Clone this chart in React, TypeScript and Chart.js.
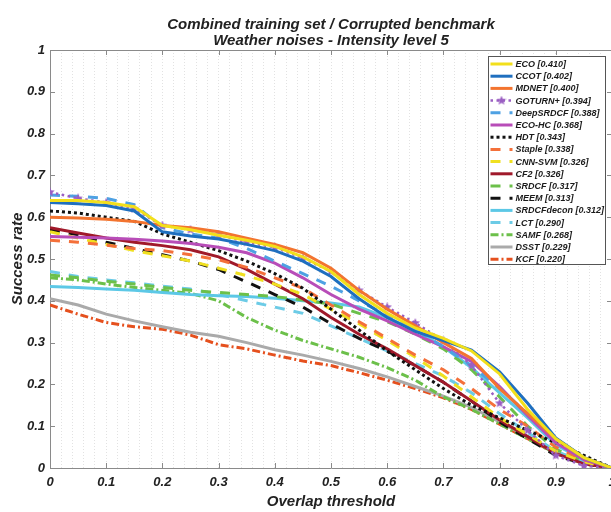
import React, { useEffect, useRef } from 'react';
import { Chart, registerables } from 'chart.js';

Chart.register(...registerables);

const thresholds = [0, 0.05, 0.1, 0.15, 0.2, 0.25, 0.3, 0.35, 0.4, 0.45, 0.5, 0.55, 0.6, 0.65, 0.7, 0.75, 0.8, 0.85, 0.9, 0.95, 1];

const eco = [0.640, 0.640, 0.635, 0.625, 0.580, 0.570, 0.557, 0.545, 0.530, 0.505, 0.470, 0.415, 0.370, 0.335, 0.310, 0.280, 0.225, 0.140, 0.070, 0.025, 0.000];
const ccot = [0.635, 0.632, 0.628, 0.615, 0.565, 0.555, 0.548, 0.535, 0.520, 0.495, 0.458, 0.405, 0.360, 0.327, 0.305, 0.282, 0.230, 0.155, 0.072, 0.025, 0.000];
const mdnet = [0.600, 0.598, 0.595, 0.590, 0.580, 0.575, 0.565, 0.550, 0.535, 0.515, 0.478, 0.425, 0.380, 0.340, 0.300, 0.262, 0.190, 0.130, 0.070, 0.025, 0.000];
const goturn = [0.660, 0.645, 0.635, 0.620, 0.580, 0.570, 0.558, 0.540, 0.528, 0.502, 0.470, 0.425, 0.385, 0.347, 0.305, 0.245, 0.155, 0.090, 0.030, 0.005, 0.000];
const deepSrdcf = [0.653, 0.650, 0.645, 0.630, 0.575, 0.560, 0.550, 0.525, 0.495, 0.465, 0.435, 0.400, 0.365, 0.330, 0.290, 0.245, 0.190, 0.130, 0.070, 0.025, 0.000];
const ecoHc = [0.554, 0.552, 0.550, 0.547, 0.543, 0.537, 0.528, 0.515, 0.490, 0.455, 0.415, 0.380, 0.352, 0.320, 0.290, 0.255, 0.195, 0.125, 0.060, 0.020, 0.000];
const hdt = [0.615, 0.610, 0.600, 0.590, 0.560, 0.540, 0.520, 0.495, 0.465, 0.430, 0.380, 0.330, 0.280, 0.235, 0.190, 0.150, 0.120, 0.090, 0.060, 0.030, 0.000];
const staple = [0.545, 0.540, 0.533, 0.525, 0.520, 0.510, 0.498, 0.480, 0.455, 0.430, 0.390, 0.350, 0.310, 0.270, 0.235, 0.190, 0.140, 0.100, 0.050, 0.020, 0.000];
const cnnSvm = [0.565, 0.550, 0.535, 0.520, 0.508, 0.495, 0.478, 0.460, 0.440, 0.415, 0.380, 0.345, 0.305, 0.265, 0.220, 0.170, 0.120, 0.080, 0.040, 0.015, 0.000];
const cf2 = [0.575, 0.562, 0.550, 0.540, 0.532, 0.522, 0.505, 0.475, 0.440, 0.405, 0.360, 0.320, 0.285, 0.245, 0.205, 0.160, 0.115, 0.075, 0.035, 0.010, 0.000];
const srdcf = [0.462, 0.455, 0.447, 0.440, 0.432, 0.425, 0.420, 0.415, 0.410, 0.402, 0.392, 0.370, 0.350, 0.320, 0.285, 0.235, 0.170, 0.100, 0.045, 0.015, 0.000];
const meem = [0.570, 0.558, 0.540, 0.525, 0.510, 0.495, 0.475, 0.445, 0.415, 0.385, 0.345, 0.310, 0.280, 0.245, 0.205, 0.160, 0.110, 0.070, 0.030, 0.010, 0.000];
const srdcfDecon = [0.434, 0.432, 0.428, 0.425, 0.420, 0.415, 0.412, 0.410, 0.406, 0.400, 0.395, 0.385, 0.360, 0.330, 0.290, 0.240, 0.180, 0.120, 0.055, 0.020, 0.000];
const lct = [0.470, 0.458, 0.450, 0.443, 0.435, 0.428, 0.415, 0.400, 0.385, 0.370, 0.340, 0.310, 0.280, 0.250, 0.220, 0.180, 0.130, 0.085, 0.040, 0.015, 0.000];
const samf = [0.455, 0.450, 0.440, 0.432, 0.425, 0.418, 0.400, 0.360, 0.330, 0.305, 0.285, 0.265, 0.240, 0.210, 0.170, 0.140, 0.105, 0.070, 0.035, 0.010, 0.000];
const dsst = [0.405, 0.390, 0.368, 0.352, 0.338, 0.325, 0.315, 0.300, 0.283, 0.270, 0.255, 0.238, 0.218, 0.195, 0.172, 0.145, 0.110, 0.075, 0.040, 0.012, 0.000];
const kcf = [0.390, 0.368, 0.348, 0.338, 0.332, 0.318, 0.295, 0.285, 0.270, 0.256, 0.245, 0.228, 0.210, 0.190, 0.168, 0.140, 0.105, 0.070, 0.035, 0.010, 0.000];

const trackerNames = ['ECO', 'CCOT', 'MDNET', 'GOTURN+', 'DeepSRDCF', 'ECO-HC', 'HDT', 'Staple', 'CNN-SVM', 'CF2', 'SRDCF', 'MEEM', 'SRDCFdecon', 'LCT', 'SAMF', 'DSST', 'KCF'];
const aucScores = ['0.410', '0.402', '0.400', '0.394', '0.388', '0.368', '0.343', '0.338', '0.326', '0.326', '0.317', '0.313', '0.312', '0.290', '0.268', '0.229', '0.220'];
const seriesValues = [eco, ccot, mdnet, goturn, deepSrdcf, ecoHc, hdt, staple, cnnSvm, cf2, srdcf, meem, srdcfDecon, lct, samf, dsst, kcf];

const xTickLabels = ['0', '0.1', '0.2', '0.3', '0.4', '0.5', '0.6', '0.7', '0.8', '0.9', '1'];
const yTickLabels = ['0', '0.1', '0.2', '0.3', '0.4', '0.5', '0.6', '0.7', '0.8', '0.9', '1'];
const majorTickValues = [0, 0.1, 0.2, 0.3, 0.4, 0.5, 0.6, 0.7, 0.8, 0.9, 1];
const titleLines = ['Combined training set / Corrupted benchmark', 'Weather noises - Intensity level 5'];
const xTitle = 'Overlap threshold';
const yTitle = 'Success rate';

const FONT = "'Liberation Sans', Arial, Helvetica, sans-serif";
const DASHED = [10, 9];
const DASHDOT = [8, 3, 2, 3];
const DOTTED = [3, 3];

const styles = [
  { color: '#f2df1b', dash: [], width: 3 },
  { color: '#1f6fbf', dash: [], width: 3 },
  { color: '#f3742f', dash: [], width: 3 },
  { color: '#9a5fc2', dash: [2.5, 3.5], width: 2.5, star: true },
  { color: '#4ea1e3', dash: DASHED, width: 3 },
  { color: '#b84db8', dash: [], width: 3 },
  { color: '#111111', dash: DOTTED, width: 3 },
  { color: '#f4703a', dash: DASHED, width: 3 },
  { color: '#f0e020', dash: DASHED, width: 3 },
  { color: '#a0192a', dash: [], width: 3 },
  { color: '#6cc04a', dash: DASHED, width: 3 },
  { color: '#111111', dash: DASHED, width: 3 },
  { color: '#5cc8e6', dash: [], width: 3 },
  { color: '#6ccbe6', dash: DASHED, width: 3 },
  { color: '#6cc04a', dash: DASHDOT, width: 3 },
  { color: '#aaaaaa', dash: [], width: 3 },
  { color: '#e5501e', dash: DASHDOT, width: 3 },
];

function makeStar(color: string, size: number) {
  const c = document.createElement('canvas');
  c.width = size;
  c.height = size;
  const g = c.getContext('2d')!;
  g.fillStyle = color;
  g.beginPath();
  const cx = size / 2, cy = size / 2, R = size / 2, r = R * 0.45;
  for (let k = 0; k < 10; k++) {
    const a = -Math.PI / 2 + (k * Math.PI) / 5;
    const rad = k % 2 === 0 ? R : r;
    g.lineTo(cx + rad * Math.cos(a), cy + rad * Math.sin(a));
  }
  g.closePath();
  g.fill();
  return c;
}

export default function App() {
  const ref = useRef<HTMLCanvasElement>(null);

  useEffect(() => {
    if (!ref.current) return;
    const star = makeStar('#9a5fc2', 10);

    const datasets = seriesValues.map((vals, i) => {
      const st = styles[i];
      return {
        label: trackerNames[i],
        data: thresholds.map((t, j) => ({ x: t, y: vals[j] })),
        borderColor: st.color,
        backgroundColor: st.color,
        borderWidth: st.width,
        borderDash: st.dash,
        pointRadius: st.star ? 4 : 0,
        pointStyle: st.star ? star : 'circle',
        tension: 0,
        fill: false,
      };
    });

    const decor = {
      id: 'decor',
      beforeDatasetsDraw(chart: any) {
        const { ctx, chartArea } = chart;
        const { left, right, top, bottom } = chartArea;
        const x = chart.scales.x;
        const y = chart.scales.y;
        ctx.save();
        ctx.strokeStyle = '#8a8a8a';
        ctx.lineWidth = 1;
        ctx.setLineDash([]);
        ctx.beginPath();
        ctx.moveTo(left, top + 0.5);
        ctx.lineTo(right, top + 0.5);
        ctx.moveTo(right - 0.5, top);
        ctx.lineTo(right - 0.5, bottom);
        const tl = 5;
        majorTickValues.forEach((v) => {
          const px = Math.round(x.getPixelForValue(v)) + 0.5;
          ctx.moveTo(px, bottom);
          ctx.lineTo(px, bottom - tl);
          ctx.moveTo(px, top);
          ctx.lineTo(px, top + tl);
          const py = Math.round(y.getPixelForValue(v)) + 0.5;
          ctx.moveTo(left, py);
          ctx.lineTo(left + tl, py);
          ctx.moveTo(right, py);
          ctx.lineTo(right - tl, py);
        });
        ctx.stroke();
        ctx.restore();
      },
      afterDraw(chart: any) {
        const ctx = chart.ctx;
        const bx = 488.5, by = 56.5, bw = 117, bh = 208;
        ctx.save();
        ctx.fillStyle = '#ffffff';
        ctx.fillRect(bx, by, bw, bh);
        ctx.strokeStyle = '#555555';
        ctx.lineWidth = 1;
        ctx.setLineDash([]);
        ctx.strokeRect(bx, by, bw, bh);
        ctx.font = `italic bold 9px ${FONT}`;
        ctx.textBaseline = 'middle';
        ctx.textAlign = 'left';
        trackerNames.forEach((name, i) => {
          const st = styles[i];
          const yy = by + 7.5 + i * 12.2;
          ctx.save();
          ctx.strokeStyle = st.color;
          ctx.lineWidth = st.width;
          ctx.setLineDash(st.dash);
          ctx.beginPath();
          ctx.moveTo(bx + 2, yy);
          ctx.lineTo(bx + 24, yy);
          ctx.stroke();
          if (st.star) ctx.drawImage(star, bx + 13 - 5, yy - 5);
          ctx.restore();
          ctx.fillStyle = '#1a1a1a';
          ctx.fillText(`${name} [${aucScores[i]}]`, bx + 27, yy + 0.5);
        });
        ctx.restore();
      },
    };

    const tickFont = { family: FONT, size: 13, weight: 'bold' as const, style: 'italic' as const };
    const titleFont = { family: FONT, size: 15, weight: 'bold' as const, style: 'italic' as const };

    const chart = new Chart(ref.current, {
      type: 'line',
      data: { datasets: datasets as any },
      options: {
        responsive: false,
        animation: false,
        layout: { padding: { left: 0, right: 8, top: 0, bottom: 0 } },
        plugins: {
          legend: { display: false },
          tooltip: { enabled: false },
          title: {
            display: true,
            text: titleLines,
            fullSize: false,
            color: '#222222',
            font: { ...titleFont, lineHeight: 1.05 },
            padding: { top: 17, bottom: 1.5 },
          },
        },
        scales: {
          x: {
            type: 'linear',
            min: 0,
            max: 1,
            ticks: {
              stepSize: 0.02,
              autoSkip: false,
              maxRotation: 0,
              minRotation: 0,
              padding: 7,
              color: '#222222',
              font: tickFont,
              callback: (v: any) => {
                const k = Math.round(Number(v) * 50);
                return k % 5 === 0 ? xTickLabels[k / 5] : '';
              },
            },
            grid: { display: true, color: '#e2e2e2', lineWidth: 1, drawTicks: false },
            border: { display: true, color: '#8a8a8a', width: 1, dash: [1, 2] },
            title: { display: true, text: xTitle, color: '#222222', font: titleFont, padding: { top: 0, bottom: 1.5 } },
            afterFit: (s: any) => {
              s.height = 44;
              s.paddingLeft = 0;
              s.paddingRight = 0;
            },
          },
          y: {
            type: 'linear',
            min: 0,
            max: 1,
            ticks: {
              stepSize: 0.1,
              padding: 5,
              color: '#222222',
              font: tickFont,
              callback: (_v: any, i: number) => yTickLabels[i],
            },
            grid: { display: false, drawTicks: false },
            border: { display: true, color: '#8a8a8a', width: 1 },
            title: { display: true, text: yTitle, color: '#222222', font: titleFont, padding: { top: 9, bottom: 0 } },
            afterFit: (s: any) => {
              s.width = 50;
              s.paddingTop = 0;
              s.paddingBottom = 0;
            },
          },
        },
      } as any,
      plugins: [decor],
    });

    return () => chart.destroy();
  }, []);

  return (
    <div style={{ position: 'fixed', left: 0, top: 0, width: 611, height: 512, overflow: 'hidden', background: '#ffffff' }}>
      <canvas ref={ref} width={620} height={512} style={{ display: 'block' }} />
    </div>
  );
}
